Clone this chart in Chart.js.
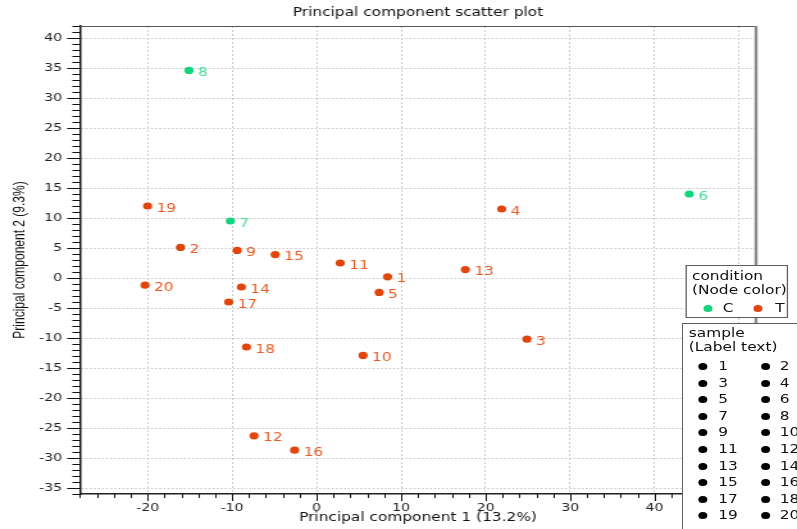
<!DOCTYPE html>
<html>
<head>
<meta charset="utf-8">
<title>Principal component scatter plot</title>
<script src="https://cdn.jsdelivr.net/npm/chart.js@4.4.1/dist/chart.umd.min.js"></script>
<style>
  html, body { margin: 0; padding: 0; background: #fff; overflow: hidden; }
  /* the reference is stretched sideways, so the whole stage is drawn narrow and scaled */
  #stage { position: absolute; left: 0; top: 0; width: 622px; height: 529px; transform: scaleX(1.2814); transform-origin: 0 0; }
  #plot { position: absolute; left: 0; top: 0; }
  .box { position: absolute; background: #fff; border: 1.6px solid #5e5e5e; box-sizing: border-box; }
  .txt { position: absolute; font: 12px "DejaVu Sans", sans-serif; color: #111; white-space: nowrap; line-height: 14px; }
  .dot { position: absolute; width: 7px; height: 7px; border-radius: 50%; }
</style>
</head>
<body>
<div id="stage">
  <canvas id="plot" width="622" height="529" style="width:622px;height:529px"></canvas>
</div>
<script>
const sampleIds = [1, 2, 3, 4, 5, 6, 7, 8, 9, 10, 11, 12, 13, 14, 15, 16, 17, 18, 19, 20];
const pc1 = [8.4, -16.1, 24.9, 21.9, 7.4, 44.1, -10.2, -15.1, -9.4, 5.5, 2.8, -7.4, 17.6, -8.9, -4.9, -2.6, -10.4, -8.3, -20.0, -20.3];
const pc2 = [0.2, 5.1, -10.2, 11.5, -2.4, 14.0, 9.5, 34.6, 4.6, -12.9, 2.5, -26.3, 1.4, -1.5, 3.9, -28.7, -4.0, -11.5, 12.0, -1.2];
const condition = ['T', 'T', 'T', 'T', 'T', 'C', 'C', 'C', 'T', 'T', 'T', 'T', 'T', 'T', 'T', 'T', 'T', 'T', 'T', 'T'];

const conditionNames = ['C', 'T'];
const conditionColors = ['#12d47c', '#e0460c'];
const labelColors = ['#48dd9b', '#e65a24'];

const xTicks = [-20, -10, 0, 10, 20, 30, 40, 50];
const yTicks = [-35, -30, -25, -20, -15, -10, -5, 0, 5, 10, 15, 20, 25, 30, 35, 40];

const datasets = conditionNames.map((name, c) => ({
  label: name,
  data: sampleIds
    .map((id, i) => ({ x: pc1[i], y: pc2[i], id: id, cond: condition[i] }))
    .filter(p => p.cond === name),
  backgroundColor: conditionColors[c],
  borderWidth: 0,
  pointRadius: 3.6,
  pointHoverRadius: 3.6,
}));

// frame, minor ticks and sample labels
const decorations = {
  id: 'decorations',
  afterDatasetsDraw(chart) {
    const ctx = chart.ctx;
    ctx.save();
    ctx.font = '12px "DejaVu Sans", sans-serif';
    ctx.textBaseline = 'middle';
    ctx.textAlign = 'left';
    chart.data.datasets.forEach((ds, d) => {
      ctx.fillStyle = labelColors[d];
      chart.getDatasetMeta(d).data.forEach((el, i) => {
        ctx.fillText(String(ds.data[i].id), el.x + 7, el.y + 2.5);
      });
    });
    ctx.restore();
  },
  afterDraw(chart) {
    const { ctx, chartArea: a, scales: { x, y } } = chart;
    ctx.save();
    ctx.strokeStyle = '#111';
    ctx.lineWidth = 1;
    for (let v = Math.ceil(y.min); v <= y.max; v++) {
      const py = Math.round(y.getPixelForValue(v)) + 0.5;
      const len = v % 5 === 0 ? 10 : 6;
      ctx.beginPath();
      ctx.moveTo(a.left - len, py);
      ctx.lineTo(a.left, py);
      ctx.stroke();
    }
    for (let v = Math.ceil(x.min / 2) * 2; v <= x.max; v += 2) {
      const px = Math.round(x.getPixelForValue(v)) + 0.5;
      const len = v % 10 === 0 ? 7 : 4;
      ctx.beginPath();
      ctx.moveTo(px, a.bottom);
      ctx.lineTo(px, a.bottom + len);
      ctx.stroke();
    }
    ctx.strokeStyle = '#555';
    ctx.beginPath();
    ctx.moveTo(a.left, a.top + 0.5);
    ctx.lineTo(a.right, a.top + 0.5);
    ctx.stroke();
    ctx.strokeStyle = '#8a8a8a';
    ctx.lineWidth = 2.4;
    ctx.beginPath();
    ctx.moveTo(a.right, a.top);
    ctx.lineTo(a.right, a.bottom);
    ctx.stroke();
    ctx.restore();
  }
};

const tickFont = { family: '"DejaVu Sans", sans-serif', size: 11 };

new Chart(document.getElementById('plot'), {
  type: 'scatter',
  data: { datasets },
  options: {
    responsive: false,
    animation: false,
    layout: { padding: { left: 0, right: 32, top: 0, bottom: 0 } },
    plugins: {
      legend: { display: false },
      tooltip: { enabled: false },
      title: {
        display: true,
        fullSize: false,
        text: 'Principal component scatter plot',
        color: '#111',
        font: { family: '"DejaVu Sans", sans-serif', size: 12, weight: 'normal' },
        padding: { top: 6, bottom: 5.6 }
      }
    },
    scales: {
      x: {
        type: 'linear',
        min: -28,
        max: 52,
        afterBuildTicks: (scale) => { scale.ticks = xTicks.map(v => ({ value: v })); },
        afterFit: (scale) => { scale.height = 35; },
        ticks: { color: '#222', font: tickFont, padding: 8, autoSkip: false, maxRotation: 0 },
        grid: { color: '#cacaca', lineWidth: 1, drawTicks: false },
        border: { color: '#222', width: 1.5, dash: [2, 2] },
        title: {
          display: true,
          text: 'Principal component 1 (13.2%)',
          color: '#111',
          font: { family: '"DejaVu Sans", sans-serif', size: 12 },
          padding: { top: 0, bottom: 4 }
        }
      },
      y: {
        type: 'linear',
        min: -36,
        max: 42,
        afterBuildTicks: (scale) => { scale.ticks = yTicks.map(v => ({ value: v })); },
        afterFit: (scale) => { scale.width = 62.4; },
        ticks: { color: '#222', font: tickFont, padding: 14, autoSkip: false },
        grid: { color: '#cacaca', lineWidth: 1, drawTicks: false },
        border: { color: '#111', width: 1.5, dash: [1.6, 1.6] },
        title: {
          display: true,
          text: 'Principal component 2 (9.3%)',
          color: '#111',
          font: { family: '"Liberation Sans", sans-serif', size: 12 },
          padding: { top: 8, bottom: 0 }
        }
      }
    }
  },
  plugins: [decorations]
});

// legend boxes (positions in the narrow stage units)
const stage = document.getElementById('stage');
function add(cls, left, top, props) {
  const el = document.createElement('div');
  el.className = cls;
  el.style.left = left + 'px';
  el.style.top = top + 'px';
  Object.assign(el.style, props || {});
  stage.appendChild(el);
  return el;
}

add('box', 534.6, 265, { width: '80.4px', height: '53px' });
add('txt', 540, 268.5).innerHTML = 'condition<br>(Node color)';
conditionNames.forEach((name, c) => {
  const dotX = c === 0 ? 552.5 : 591.7;
  const txtX = c === 0 ? 564 : 605;
  add('dot', dotX - 3.5, 304.5, { background: conditionColors[c] });
  add('txt', txtX, 300.5).textContent = name;
});

add('box', 532.4, 323, { width: '140px', height: '250px' });
add('txt', 537.5, 325.5, { lineHeight: '14.5px' }).innerHTML = 'sample<br>(Label text)';
sampleIds.forEach((id, i) => {
  const col = i % 2;
  const row = Math.floor(i / 2);
  const cy = 366.7 + 16.55 * row;
  add('dot', (col === 0 ? 548.8 : 597.2) - 3.5, cy - 3.5, { background: '#000' });
  add('txt', col === 0 ? 560.5 : 608.5, cy - 7.5).textContent = String(id);
});
</script>
</body>
</html>
